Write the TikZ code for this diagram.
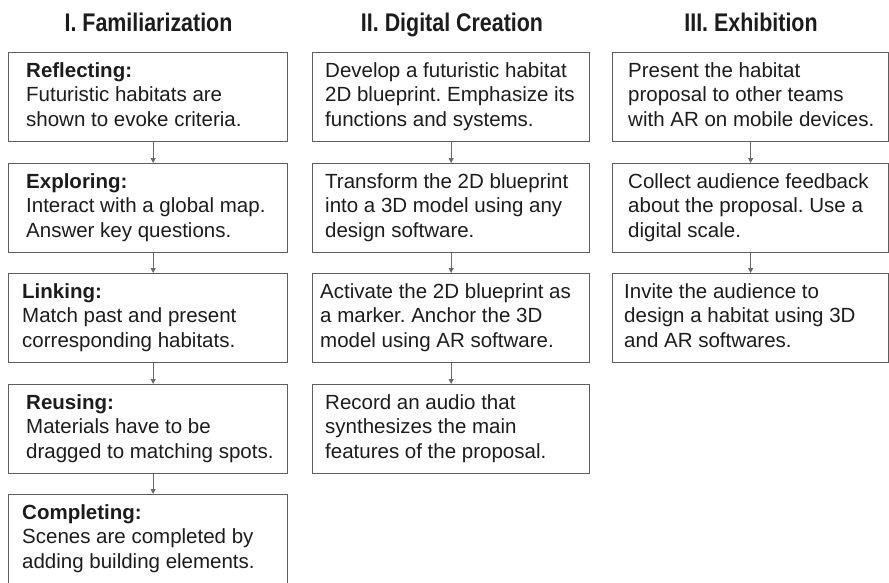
\documentclass[tikz,border=0pt]{standalone}
\usepackage{fontspec}
\usepackage{graphicx}
\setmainfont{Liberation Sans}
\usetikzlibrary{arrows.meta}
\definecolor{edge}{HTML}{5E5E5E}
\definecolor{link}{HTML}{6A6A6A}
\definecolor{ink}{HTML}{1C1C1C}
\tikzset{
  stagebox/.style={draw=edge, line width=1.3pt, rectangle, inner sep=0pt,
    anchor=north west, minimum height=89pt},
  col1/.style={stagebox, minimum width=279pt},
  col2/.style={stagebox, minimum width=277pt},
  col3/.style={stagebox, minimum width=276pt},
  stagetext/.style={anchor=base west, inner sep=0pt, text=ink},
  heading/.style={anchor=base, inner sep=0pt, text=ink,
    font=\fontsize{25.5pt}{28pt}\selectfont\bfseries},
  flow/.style={draw=link, line width=1pt, -{Triangle[length=5pt,width=5pt]}}
}
\frenchspacing
\newcommand{\stagelines}[1]{\parbox[t]{270pt}{\frenchspacing\fontsize{20.5pt}{24.8pt}\selectfont #1}}
\newcommand{\narrow}[1]{\scalebox{0.84}[1]{#1}}
\begin{document}
\begin{tikzpicture}[x=1pt, y=-1pt]
\useasboundingbox (0,0) rectangle (889,582);
\clip (0,0) rectangle (889,582);

% column headings
\node[heading] (h1) at (148.5,31) {\narrow{I. Familiarization}};
\node[heading] (h2) at (452,31) {\narrow{II. Digital Creation}};
\node[heading] (h3) at (751,31) {\narrow{III. Exhibition}};

% I. Familiarization
\node[col1] (f1) at (8,52) {};
\node[col1] (f2) at (8,163) {};
\node[col1] (f3) at (8,273) {};
\node[col1] (f4) at (8,384) {};
\node[col1] (f5) at (8,494) {};
\node[stagetext] (f1t) at ([xshift=18pt,yshift=-25pt]f1.north west)
  {\stagelines{\textbf{Reflecting:}\\Futuristic habitats are\\shown to evoke criteria.}};
\node[stagetext] (f2t) at ([xshift=18pt,yshift=-25pt]f2.north west)
  {\stagelines{\textbf{Exploring:}\\Interact with a global map.\\Answer key questions.}};
\node[stagetext] (f3t) at ([xshift=14pt,yshift=-25pt]f3.north west)
  {\stagelines{\textbf{Linking:}\\Match past and present\\corresponding habitats.}};
\node[stagetext] (f4t) at ([xshift=18pt,yshift=-25pt]f4.north west)
  {\stagelines{\textbf{Reusing:}\\Materials have to be\\dragged to matching spots.}};
\node[stagetext] (f5t) at ([xshift=14pt,yshift=-25pt]f5.north west)
  {\stagelines{\textbf{Completing:}\\Scenes are completed by\\adding building elements.}};

% II. Digital Creation
\node[col2] (d1) at (312,52) {};
\node[col2] (d2) at (312,163) {};
\node[col2] (d3) at (312,273) {};
\node[col2] (d4) at (312,384) {};
\node[stagetext] (d1t) at ([xshift=13pt,yshift=-25pt]d1.north west)
  {\stagelines{Develop a futuristic habitat\\2D blueprint. Emphasize its\\functions and systems.}};
\node[stagetext] (d2t) at ([xshift=13pt,yshift=-25pt]d2.north west)
  {\stagelines{Transform the 2D blueprint\\into a 3D model using any\\design software.}};
\node[stagetext] (d3t) at ([xshift=8pt,yshift=-25pt]d3.north west)
  {\stagelines{Activate the 2D blueprint as\\a marker. Anchor the 3D\\model using AR software.}};
\node[stagetext] (d4t) at ([xshift=13pt,yshift=-25pt]d4.north west)
  {\stagelines{Record an audio that\\synthesizes the main\\features of the proposal.}};

% III. Exhibition
\node[col3] (e1) at (612,52) {};
\node[col3] (e2) at (612,163) {};
\node[col3] (e3) at (612,273) {};
\node[stagetext] (e1t) at ([xshift=16pt,yshift=-25pt]e1.north west)
  {\stagelines{Present the habitat\\proposal to other teams\\with AR on mobile devices.}};
\node[stagetext] (e2t) at ([xshift=16pt,yshift=-25pt]e2.north west)
  {\stagelines{Collect audience feedback\\about the proposal. Use a\\digital scale.}};
\node[stagetext] (e3t) at ([xshift=12pt,yshift=-25pt]e3.north west)
  {\stagelines{Invite the audience to\\design a habitat using 3D\\and AR softwares.}};

% connectors
\draw[flow] ([xshift=5pt]f1.south) -- ([xshift=5pt]f2.north);
\draw[flow] ([xshift=5pt]f2.south) -- ([xshift=5pt]f3.north);
\draw[flow] ([xshift=5pt]f3.south) -- ([xshift=5pt]f4.north);
\draw[flow] ([xshift=5pt]f4.south) -- ([xshift=5pt]f5.north);
\draw[flow] (d1.south) -- (d2.north);
\draw[flow] (d2.south) -- (d3.north);
\draw[flow] (d3.south) -- (d4.north);
\draw[flow] (e1.south) -- (e2.north);
\draw[flow] (e2.south) -- (e3.north);
\end{tikzpicture}
\end{document}
